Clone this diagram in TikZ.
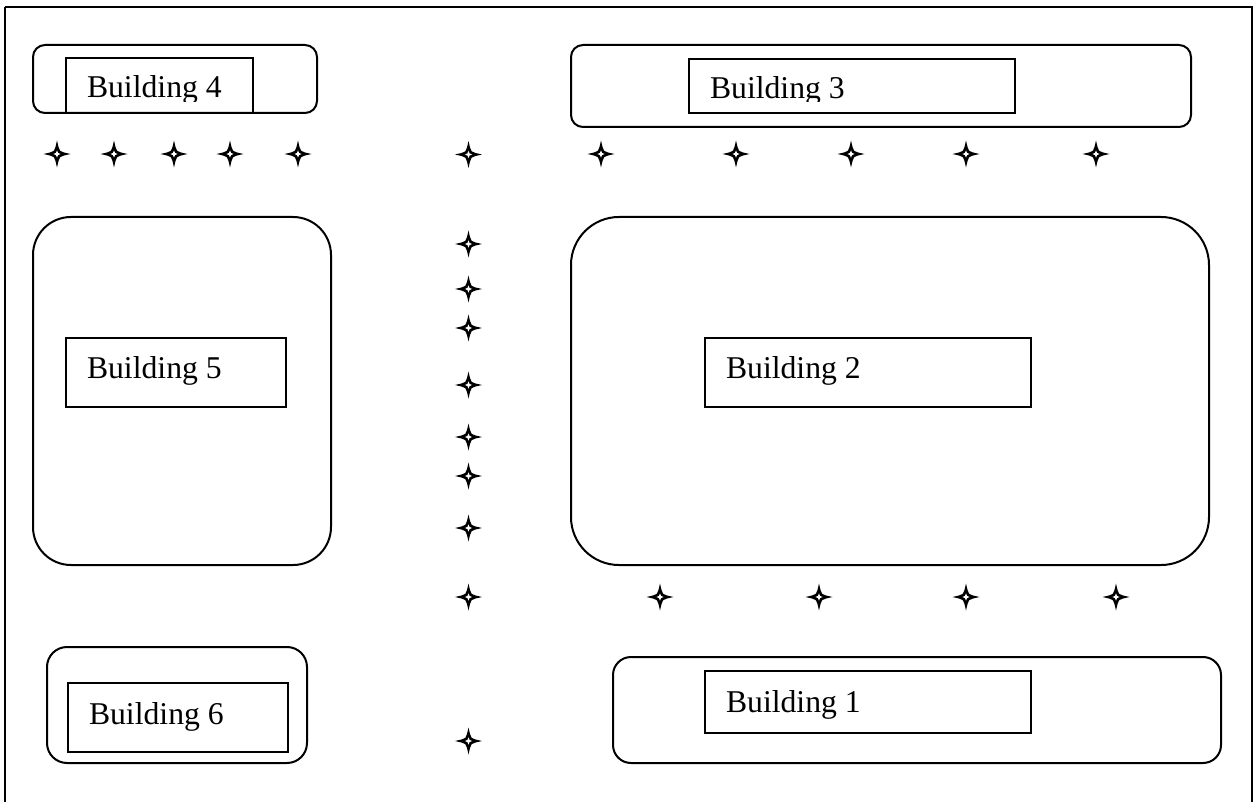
\documentclass[tikz,border=0pt]{standalone}
\usepackage{fontspec}
\setmainfont{Liberation Serif}
\tikzset{
  x=1pt,y=-1pt,
  lineblk/.style={draw=black,line width=2pt},
  bldg/.style={lineblk,fill=white},
  lbl/.style={anchor=base west,inner sep=0pt,outer sep=0pt,font=\fontsize{31.7pt}{36pt}\selectfont,text=black},
  starmark/.pic={
    \fill[black] (-13.5,0) .. controls (-7,-1.5) and (-4.5,-2) .. (-3.2,-3.2)
      .. controls (-2,-4.5) and (-1.5,-7) .. (0,-13.5)
      .. controls (1.5,-7) and (2,-4.5) .. (3.2,-3.2)
      .. controls (4.5,-2) and (7,-1.5) .. (13.5,0)
      .. controls (7,1.5) and (4.5,2) .. (3.2,3.2)
      .. controls (2,4.5) and (1.5,7) .. (0,13.5)
      .. controls (-1.5,7) and (-2,4.5) .. (-3.2,3.2)
      .. controls (-4.5,2) and (-7,1.5) .. (-13.5,0) -- cycle;
    \fill[white] (-3.6,0) .. controls (-1.2,-.4) and (-.4,-1.2) .. (0,-3.6)
      .. controls (.4,-1.2) and (1.2,-.4) .. (3.6,0)
      .. controls (1.2,.4) and (.4,1.2) .. (0,3.6)
      .. controls (-.4,1.2) and (-1.2,.4) .. (-3.6,0) -- cycle;
  }
}
\begin{document}
\begin{tikzpicture}
\useasboundingbox (0,0) rectangle (1256,802);
\fill[white] (0,0) rectangle (1256,802);
\draw[lineblk] (5,7) -- (1252,7) -- (1252,802) (5,7) -- (5,802);
% outer rounded boxes
\draw[bldg,rounded corners=12] (33,45) rectangle (317,113);
\draw[bldg,rounded corners=12] (571,45) rectangle (1191,127);
\draw[bldg,rounded corners=38] (33,217) rectangle (331,565);
\draw[bldg,rounded corners=48] (571,217) rectangle (1209,565);
\draw[bldg,rounded corners=20] (47,647) rectangle (307,763);
\draw[bldg,rounded corners=18] (613,657) rectangle (1221,763);
% inner boxes
\draw[lineblk] (66,113) -- (66,58) -- (253,58) -- (253,113);
\begin{scope}\clip (60,60) rectangle (250,102);
\node[lbl] (b4) at (87,98) {Building 4};
\end{scope}
\draw[bldg] (689,59) rectangle (1015,113);
\begin{scope}\clip (695,60) rectangle (1010,102);
\node[lbl] (b3) at (710,99) {Building 3};
\end{scope}
\draw[bldg] (66,338) rectangle (286,407);
\node[lbl] (b5) at (87,378) {Building 5};
\draw[bldg] (705,338) rectangle (1031,407);
\node[lbl] (b2) at (726,378) {Building 2};
\draw[bldg] (68,683) rectangle (288,752);
\node[lbl] (b6) at (89,724) {Building 6};
\draw[bldg] (705,671) rectangle (1031,733);
\node[lbl] (b1) at (726,712) {Building 1};
% stars
\foreach \px/\py in {57/154,114/154,174/154,230/154,298/154,468.5/154.5,601/154,736/154,851/154,966/154,1096/154,
  468.5/244,468.5/289,468.5/328,468.5/385,468.5/437,468.5/476,468.5/528,468.5/597,
  660/597,819/597,966/597,1116/597,468.5/741}
  \pic at (\px,\py) {starmark};
\end{tikzpicture}
\end{document}
